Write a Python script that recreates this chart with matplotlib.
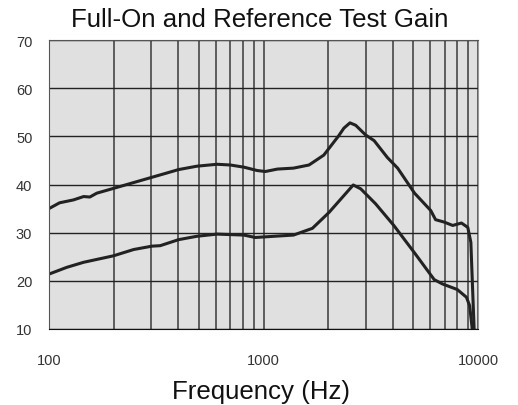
import numpy as np
import matplotlib
matplotlib.use('Agg')
import matplotlib.pyplot as plt
from matplotlib.ticker import FixedLocator, NullFormatter

plt.rcParams['font.family'] = ['Liberation Sans', 'DejaVu Sans']

# Full-on gain curve (Hz, dB)
full_on_freq = [100, 112, 130, 145, 155, 167, 200, 257, 302, 355, 402, 489, 607, 700,
                810, 935, 1020, 1160, 1380, 1630, 1910, 2240, 2370, 2530, 2690, 2990,
                3280, 3780, 4220, 5060, 6020, 6340, 6950, 7620, 8370, 8960, 9260, 9590]
full_on_gain = [35.0, 36.2, 36.8, 37.5, 37.4, 38.2, 39.2, 40.6, 41.5, 42.4, 43.1, 43.8,
                44.2, 44.05, 43.6, 42.9, 42.7, 43.2, 43.4, 44.05, 46.1, 50.1, 51.7, 52.8,
                52.3, 50.3, 49.1, 45.6, 43.4, 38.2, 34.6, 32.7, 32.2, 31.5, 32.0, 31.1,
                28.0, 10.0]

# Reference test gain curve (Hz, dB)
ref_freq = [100, 121, 145, 200, 248, 302, 330, 402, 489, 607, 810, 915, 1120, 1380,
            1690, 2020, 2370, 2620, 2840, 3330, 4050, 5060, 6250, 6830, 8000, 8830,
            9140, 9400]
ref_gain = [21.4, 22.8, 23.85, 25.2, 26.5, 27.2, 27.3, 28.55, 29.25, 29.7, 29.5, 29.0,
            29.25, 29.5, 30.9, 34.2, 37.7, 39.9, 39.1, 36.0, 31.5, 25.8, 20.25, 19.35,
            18.2, 16.6, 14.85, 10.0]

y_ticks = [10, 20, 30, 40, 50, 60, 70]
x_ticks = [100, 1000, 10000]
x_minor = [200, 300, 400, 500, 600, 700, 800, 900,
           2000, 3000, 4000, 5000, 6000, 7000, 8000, 9000]

fig = plt.figure(figsize=(5.18, 4.06), dpi=100)
ax = fig.add_axes([0.0946, 0.1872, 0.8282, 0.7118])
ax.set_facecolor('#e0e0e0')

ax.set_xscale('log')
ax.set_xlim(100, 10000)
ax.set_ylim(10, 70)

ax.xaxis.set_major_locator(FixedLocator(x_ticks))
ax.xaxis.set_minor_locator(FixedLocator(x_minor))
ax.xaxis.set_minor_formatter(NullFormatter())
ax.set_xticklabels([str(t) for t in x_ticks])
ax.set_yticks(y_ticks)

ax.grid(True, which='both', axis='x', color='#3a3a3a', linewidth=1.1)
ax.grid(True, which='major', axis='y', color='#222222', linewidth=1.0)
ax.set_axisbelow(True)

ax.tick_params(which='both', length=0)
ax.tick_params(axis='x', pad=17, labelsize=10.5, labelcolor='#333333')
ax.tick_params(axis='y', pad=12, labelsize=10.5, labelcolor='#333333')

for side in ['top', 'left']:
    ax.spines[side].set_color('#555555')
ax.spines['right'].set_color('#999999')
ax.spines['bottom'].set_color('#111111')

ax.plot(full_on_freq, full_on_gain, color='#222222', linewidth=2.2, clip_on=True)
ax.plot(ref_freq, ref_gain, color='#222222', linewidth=2.2, clip_on=True)

fig.text(0.501, 0.951, 'Full-On and Reference Test Gain', ha='center', va='center',
         fontsize=18.6, color='#111111')
fig.text(0.504, 0.034, 'Frequency (Hz)', ha='center', va='center',
         fontsize=18.6, color='#111111')

fig.savefig('out.png', dpi=100)
